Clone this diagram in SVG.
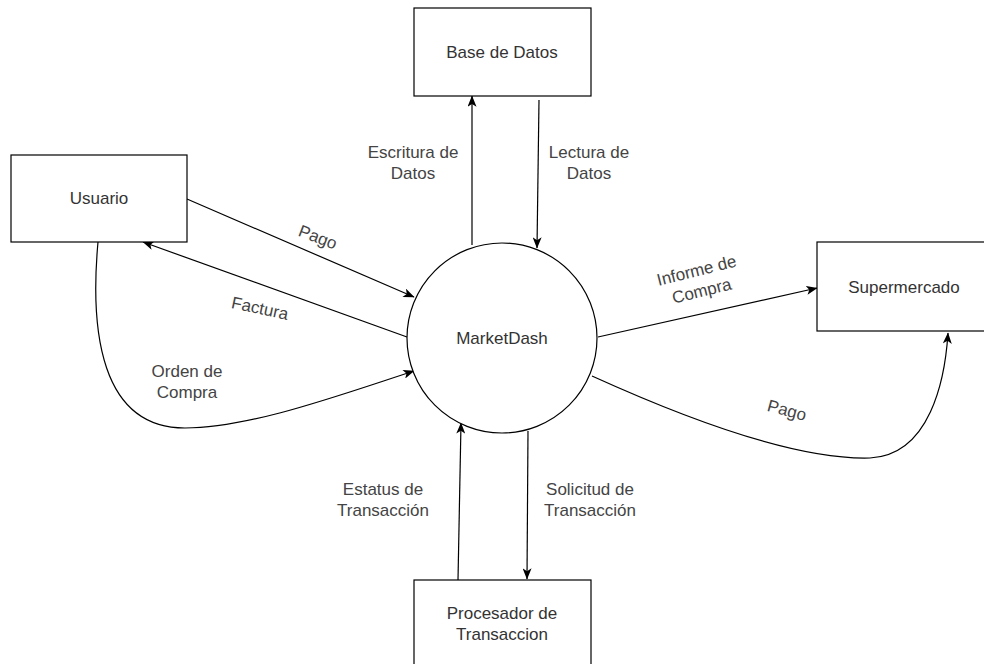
<svg xmlns="http://www.w3.org/2000/svg" width="984" height="664" viewBox="0 0 984 664">
  <defs>
    <marker id="arr" viewBox="0 0 10 8" refX="9.5" refY="4" markerWidth="11.5" markerHeight="9" markerUnits="userSpaceOnUse" orient="auto">
      <path d="M0,0 L10,4 L0,8 L2.5,4 Z" fill="#000"/>
    </marker>
    <style>
      .box { fill: #fff; stroke: #000; stroke-width: 1.2; }
      .lbl { font-family: "Liberation Sans", Arial, Helvetica, sans-serif; font-size: 17px; fill: #333; text-anchor: middle; }
      .elbl { font-family: "Liberation Sans", Arial, Helvetica, sans-serif; font-size: 17px; fill: #444; text-anchor: middle; }
      .edge { fill: none; stroke: #000; stroke-width: 1.2; marker-end: url(#arr); }
    </style>
  </defs>
  <rect width="984" height="664" fill="#fff"/>

  <g id="connectors">
    <path class="edge" d="M187,199 L414,297"/>
    <path class="edge" d="M407,337 L143,242"/>
    <path class="edge" d="M98,242 C90,330 100,428 185,428 C250,428 340,395 414,371"/>
    <path class="edge" d="M472,245 L472,96"/>
    <path class="edge" d="M539,100 L537,248"/>
    <path class="edge" d="M458,580 L461,423"/>
    <path class="edge" d="M528,431 L527,579"/>
    <path class="edge" d="M598,337 L817,288"/>
    <path class="edge" d="M592,376 C700,425 800,460 870,458 C930,455 945,380 948,333"/>
  </g>

  <g id="edge-labels">
    <text class="elbl" transform="translate(318,237) rotate(21)" y="6">Pago</text>
    <text class="elbl" transform="translate(260,308) rotate(12)" y="6">Factura</text>
    <text class="elbl" x="187" y="377">Orden de</text>
    <text class="elbl" x="187" y="398">Compra</text>
    <text class="elbl" x="413" y="158">Escritura de</text>
    <text class="elbl" x="413" y="179">Datos</text>
    <text class="elbl" x="589" y="158">Lectura de</text>
    <text class="elbl" x="589" y="179">Datos</text>
    <text class="elbl" x="383" y="495">Estatus de</text>
    <text class="elbl" x="383" y="516">Transacción</text>
    <text class="elbl" x="590" y="495">Solicitud de</text>
    <text class="elbl" x="590" y="516">Transacción</text>
    <g transform="translate(699,280) rotate(-14)">
      <text class="elbl" x="0" y="-4">Informe de</text>
      <text class="elbl" x="0" y="17">Compra</text>
    </g>
    <text class="elbl" transform="translate(787,410) rotate(15)" y="6">Pago</text>
  </g>

  <g id="node-usuario">
    <rect class="box" x="11" y="155" width="176" height="87"/>
    <text class="lbl" x="99" y="204">Usuario</text>
  </g>
  <g id="node-basedatos">
    <rect class="box" x="414" y="8" width="177" height="88"/>
    <text class="lbl" x="502" y="58">Base de Datos</text>
  </g>
  <g id="node-marketdash">
    <circle class="box" cx="502" cy="338" r="95"/>
    <text class="lbl" x="502" y="344">MarketDash</text>
  </g>
  <g id="node-supermercado">
    <rect class="box" x="817" y="242" width="174" height="89"/>
    <text class="lbl" x="904" y="293">Supermercado</text>
  </g>
  <g id="node-procesador">
    <rect class="box" x="414" y="580" width="177" height="90"/>
    <text class="lbl" x="502" y="619">Procesador de</text>
    <text class="lbl" x="502" y="640">Transaccion</text>
  </g>
</svg>
